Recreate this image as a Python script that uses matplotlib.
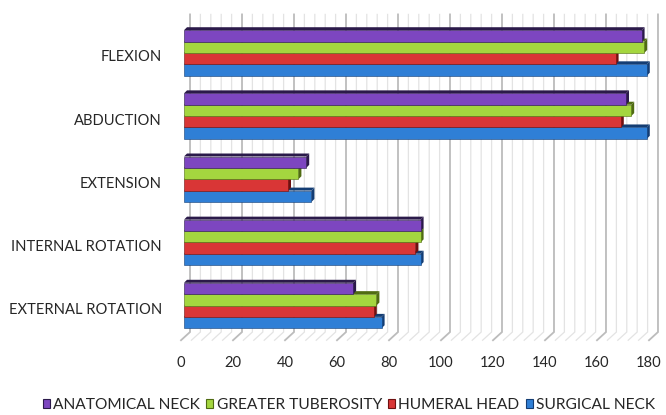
import numpy as np
import matplotlib
matplotlib.use("Agg")
import matplotlib.pyplot as plt
import matplotlib.patches as mpatches
from matplotlib.patches import Polygon
from matplotlib.transforms import ScaledTranslation

plt.rcParams["font.family"] = ["Lato", "DejaVu Sans"]

# ── data ──────────────────────────────────────────────────────────────
categories = ["EXTERNAL ROTATION", "INTERNAL ROTATION", "EXTENSION", "ABDUCTION", "FLEXION"]
series_names = ["ANATOMICAL NECK", "GREATER TUBEROSITY", "HUMERAL HEAD", "SURGICAL NECK"]
anatomical_neck    = [65, 91, 47, 170, 176]
greater_tuberosity = [74, 91, 44, 172, 177]
humeral_head       = [73, 89, 40, 168, 166]
surgical_neck      = [76, 91, 49, 178, 178]
x_ticks = list(range(0, 181, 20))

face_colors = ["#7d46c0", "#a4d63f", "#d93636", "#2f7fd6"]
dark_colors = ["#2b1a4a", "#4f6b12", "#6e1010", "#143d73"]

# ── figure / axes ─────────────────────────────────────────────────────
W, H = 666, 415
fig = plt.figure(figsize=(W / 100, H / 100), dpi=100, facecolor="white")
ax = fig.add_axes([176 / W, 1 - 343.4 / H, 486 / W, 329.6 / H])
ax.set_xlim(-3.08, 183.85)
ax.set_ylim(-0.6, 4.62)
for s in ax.spines.values():
    s.set_visible(False)

px_x = 2.6      # pixels per unit on x
px_y = 63.2     # pixels per category on y
back = 6 / px_x          # back wall shift
front = -3 / px_x        # floor front shift
y_top, y_floor, y_front = 4.61, -0.42, -0.55

# back wall + floor grid
for v in np.arange(0, 181, 4):
    major = v % 20 == 0
    col = "#bcbcbc" if major else "#e3e3e3"
    lw = 1.3 if major else 0.9
    ax.plot([v + back, v + back, v + front], [y_top, y_floor, y_front],
            color=col, lw=lw, zorder=1, clip_on=False, solid_joinstyle="miter")

# ── 3D bars ───────────────────────────────────────────────────────────
h = 0.18
dx = 3 / px_x
dy = 3 / px_y
values = [anatomical_neck, greater_tuberosity, humeral_head, surgical_neck]
offsets = [1.5 * h, 0.5 * h, -0.5 * h, -1.5 * h]

z = 2
for ci in range(len(categories)):
    # lower bars first so the bar above hides their top faces
    for si in [3, 2, 1, 0]:
        v = values[si][ci]
        yc = ci + offsets[si]
        yb, yt = yc - h / 2, yc + h / 2
        top = Polygon([[0, yt], [v, yt], [v + dx, yt + dy], [dx, yt + dy]],
                      closed=True, facecolor=dark_colors[si], edgecolor="none", zorder=z)
        side = Polygon([[v, yb], [v, yt], [v + dx, yt + dy], [v + dx, yb + dy]],
                       closed=True, facecolor=dark_colors[si], edgecolor="none", zorder=z)
        ax.add_patch(top)
        ax.add_patch(side)
        ax.barh(yc, v, height=h, left=0, color=face_colors[si],
                edgecolor=dark_colors[si], linewidth=0.4, zorder=z + 0.5)
        z += 1

# ── ticks ─────────────────────────────────────────────────────────────
ax.set_yticks(range(len(categories)))
ax.set_yticklabels(categories)
ax.set_xticks(x_ticks)
ax.set_xticklabels([str(t) for t in x_ticks])
ax.tick_params(axis="y", length=0, pad=10, labelsize=10.6, labelcolor="#262626")
ax.tick_params(axis="x", length=0, pad=9, labelsize=10.6, labelcolor="#262626")
for lab in ax.get_xticklabels():
    lab.set_transform(lab.get_transform() + ScaledTranslation(-3 / 100, 0, fig.dpi_scale_trans))
for lab in ax.get_yticklabels():
    lab.set_transform(lab.get_transform() + ScaledTranslation(0, -3 / 100, fig.dpi_scale_trans))

# ── legend ────────────────────────────────────────────────────────────
handles = [mpatches.Patch(facecolor=face_colors[i], edgecolor=dark_colors[i],
                          linewidth=0.8, label=series_names[i]) for i in range(4)]
fig.legend(handles=handles, loc="center", bbox_to_anchor=(349 / W, 1 - 405 / H),
           ncol=4, frameon=False, fontsize=11.2, handlelength=0.45, handleheight=0.45,
           handletextpad=0.2, columnspacing=0.4, labelcolor="#262626",
           borderpad=0, borderaxespad=0)

fig.savefig("out.png", dpi=100, facecolor="white")
